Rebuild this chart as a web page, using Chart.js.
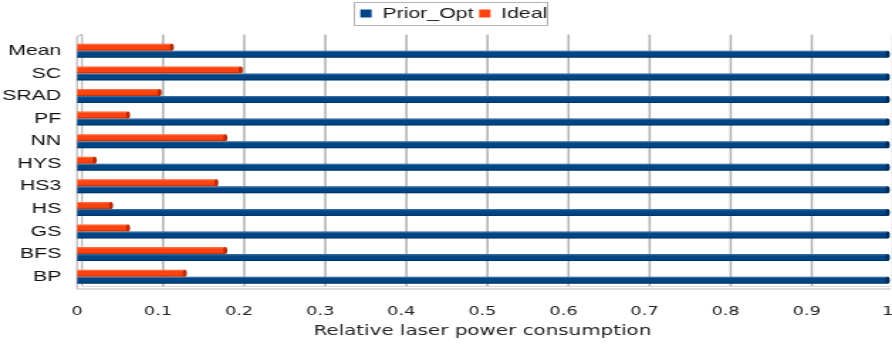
<!DOCTYPE html>
<html>
<head>
<meta charset="utf-8">
<script src="https://cdn.jsdelivr.net/npm/chart.js@4/dist/chart.umd.min.js"></script>
<style>
  html, body { margin: 0; padding: 0; background: #ffffff; }
  #wrap { width: 892px; height: 344px; overflow: hidden; }
  #c { display: block; }
</style>
</head>
<body>
<div id="wrap">
<canvas id="c" width="628" height="344" style="width:892px;height:344px;"></canvas>
</div>
<script>
// ---- data ----
const categories = ['Mean', 'SC', 'SRAD', 'PF', 'NN', 'HYS', 'HS3', 'HS', 'GS', 'BFS', 'BP'];
const priorOpt = [1, 1, 1, 1, 1, 1, 1, 1, 1, 1, 1];
const ideal = [0.117, 0.202, 0.102, 0.063, 0.183, 0.022, 0.172, 0.042, 0.063, 0.183, 0.133];
const xTickLabels = ['0', '0.1', '0.2', '0.3', '0.4', '0.5', '0.6', '0.7', '0.8', '0.9', '1'];
const seriesNames = ['Prior_Opt', 'Ideal'];
const xTitle = 'Relative laser power consumption';

const BLUE = '#004586';
const ORANGE = '#ff420e';

// offset of the back wall (3D look), in canvas units
const DEPTH = 3.6;
// horizontal nudge of the legend, in canvas units
const LEGEND_SHIFT = 7;

const wallPlugin = {
  id: 'wall',
  afterLayout(chart) {
    const lg = chart.legend;
    if (lg) {
      const h = lg.bottom - lg.top;
      lg.top = 2;
      lg.bottom = 2 + h;
      lg.left += LEGEND_SHIFT;
      lg.right += LEGEND_SHIFT;
    }
  },
  beforeDatasetsDraw(chart) {
    const ctx = chart.ctx;
    const xs = chart.scales.x;
    const area = chart.chartArea;
    ctx.save();
    // back gridlines
    ctx.strokeStyle = '#b0b0b0';
    ctx.lineWidth = 1.5;
    xs.ticks.forEach((t, i) => {
      if (i === 0) return;
      const px = xs.getPixelForValue(t.value) + DEPTH;
      ctx.beginPath();
      ctx.moveTo(px, area.top - 5);
      ctx.lineTo(px, area.bottom - 2);
      ctx.stroke();
    });
    // left wall
    const x0 = xs.getPixelForValue(0);
    ctx.strokeStyle = '#a8a8a8';
    ctx.lineWidth = 1;
    ctx.beginPath();
    ctx.moveTo(x0 + DEPTH, area.top - 5);
    ctx.lineTo(x0 + DEPTH, area.bottom - 2);
    ctx.stroke();
    ctx.beginPath();
    ctx.moveTo(x0 + DEPTH, area.top - 5);
    ctx.lineTo(x0, area.top - 3);
    ctx.lineTo(x0, area.bottom + 1);
    ctx.stroke();
    // floor
    ctx.strokeStyle = '#b8b8b8';
    ctx.lineWidth = 1.2;
    ctx.beginPath();
    ctx.moveTo(x0, area.bottom + 1);
    ctx.lineTo(area.right + 2, area.bottom + 1);
    ctx.stroke();
    ctx.strokeStyle = '#d6d6d6';
    ctx.beginPath();
    ctx.moveTo(x0 + DEPTH, area.bottom - 1.5);
    ctx.lineTo(area.right + 2, area.bottom - 1.5);
    ctx.stroke();
    ctx.restore();
  },
  afterDatasetsDraw(chart) {
    const ctx = chart.ctx;
    ctx.save();
    chart.getSortedVisibleDatasetMetas().forEach(meta => {
      const dark = meta.index === 0 ? '#002d5a' : '#b82a05';
      meta.data.forEach(el => {
        const p = el.getProps(['x', 'y', 'base', 'height'], true);
        const top = p.y - p.height / 2;
        const bottom = p.y + p.height / 2;
        const left = Math.min(p.base, p.x);
        const right = Math.max(p.base, p.x);
        ctx.fillStyle = 'rgba(255,255,255,0.22)';
        ctx.fillRect(left, top, right - left, 1.3);
        ctx.fillStyle = 'rgba(0,0,0,0.22)';
        ctx.fillRect(left, bottom - 1.3, right - left, 1.3);
        ctx.fillStyle = dark;
        ctx.beginPath();
        ctx.ellipse(right, p.y, 1.4, p.height / 2, 0, 0, Math.PI * 2);
        ctx.fill();
      });
    });
    ctx.restore();
  },
  afterDraw(chart) {
    const lg = chart.legend;
    if (!lg || !lg.legendHitBoxes || !lg.legendHitBoxes.length) return;
    const boxes = lg.legendHitBoxes;
    const last = boxes[boxes.length - 1];
    const l = boxes[0].left - 5;
    const r = last.left + last.width - 1;
    const ctx = chart.ctx;
    ctx.save();
    ctx.strokeStyle = '#b3b3b3';
    ctx.lineWidth = 1;
    ctx.strokeRect(Math.round(l) + 0.5, 2.5, Math.round(r - l), 23);
    ctx.restore();
  }
};

new Chart(document.getElementById('c'), {
  type: 'bar',
  data: {
    labels: categories,
    datasets: [
      { label: seriesNames[0], data: priorOpt, backgroundColor: BLUE, order: 1 },
      { label: seriesNames[1], data: ideal, backgroundColor: ORANGE, order: 0 }
    ]
  },
  options: {
    indexAxis: 'y',
    responsive: false,
    devicePixelRatio: 1,
    animation: false,
    events: [],
    layout: { padding: { left: 0, right: 3, top: 10.5, bottom: 0 } },
    datasets: { bar: { barPercentage: 1.0, categoryPercentage: 0.62 } },
    plugins: {
      tooltip: { enabled: false },
      legend: {
        position: 'top',
        labels: {
          font: { family: '"Liberation Sans", Arial, sans-serif', size: 15 },
          color: '#1a1a1a',
          boxWidth: 8,
          boxHeight: 8,
          padding: 4,
          sort: (a, b) => a.datasetIndex - b.datasetIndex
        }
      }
    },
    scales: {
      x: {
        type: 'linear',
        min: 0,
        max: 1,
        afterFit: (s) => { s.height = 56; s.paddingLeft = 0; s.paddingRight = 0; },
        ticks: {
          stepSize: 0.1,
          autoSkip: false,
          maxRotation: 0,
          padding: 16,
          color: '#222',
          font: { family: '"DejaVu Sans", sans-serif', size: 12.5 },
          callback: (v, i) => xTickLabels[i]
        },
        grid: { display: false, drawTicks: false },
        border: { display: false },
        title: {
          display: true,
          text: xTitle,
          color: '#222',
          font: { family: '"DejaVu Sans", sans-serif', size: 14 },
          padding: { top: 4, bottom: 4.5 }
        }
      },
      y: {
        afterFit: (s) => { s.width = 54.2; },
        ticks: {
          padding: 11,
          color: '#111',
          font: { family: '"Liberation Sans", Arial, sans-serif', size: 15 }
        },
        grid: { display: false, drawTicks: false },
        border: { display: false }
      }
    }
  },
  plugins: [wallPlugin]
});
</script>
</body>
</html>
